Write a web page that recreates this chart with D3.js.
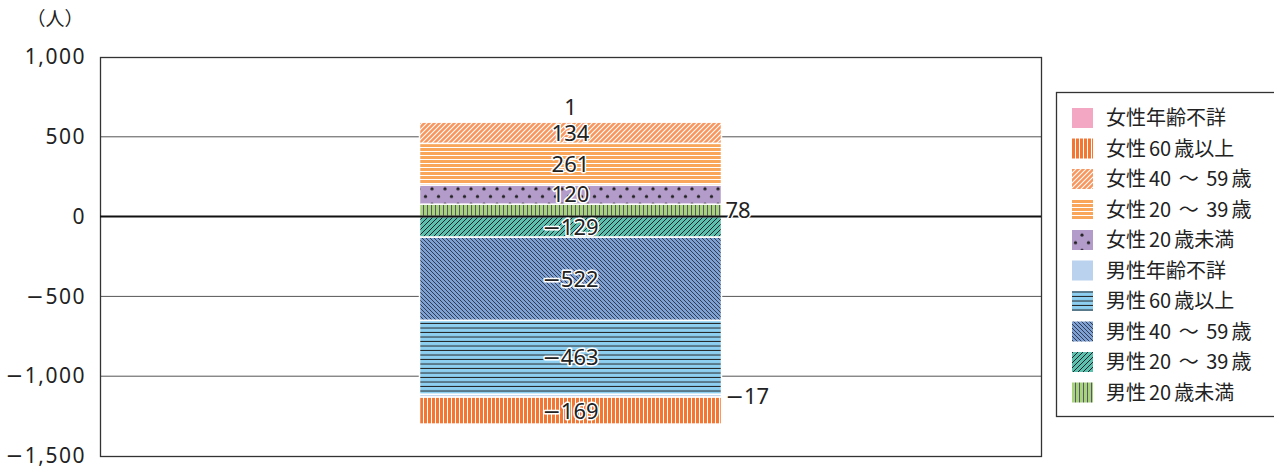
<!DOCTYPE html>
<html><head><meta charset="utf-8">
<script src="https://cdn.jsdelivr.net/npm/d3@7"></script>
<style>
body{margin:0;background:#fff;}
svg{display:block;font-family:"Noto Sans","Noto Sans CJK JP",sans-serif;}
</style></head>
<body><svg id="c" width="1274" height="466"></svg>
<script>
// ---- data ----
const categories = ["女性年齢不詳","女性60歳以上","女性40 〜 59歳","女性20 〜 39歳","女性20歳未満","男性年齢不詳","男性60歳以上","男性40 〜 59歳","男性20 〜 39歳","男性20歳未満"];
const values = [1, -169, 134, 261, 120, -17, -463, -522, -129, 78];
const yTicks = [1000, 500, 0, -500, -1000, -1500];
const yTickLabels = ["1,000","500","0","−500","−1,000","−1,500"];
const unitLabel = "（人）";

// ---- styles ----
const fills = ["#F4A7C3","url(#p1)","url(#p2)","url(#p3)","url(#p4)","#BAD2EE","url(#p6)","url(#p7)","url(#p8)","url(#p9)"];

const svg = d3.select("#c");
const M = {l:100, r:1041, t:57, b:456};

const defs = svg.append("defs");
function pat(id, w, h, bg, draw){
  const p = defs.append("pattern").attr("id",id).attr("patternUnits","userSpaceOnUse").attr("width",w).attr("height",h);
  p.append("rect").attr("width",w).attr("height",h).attr("fill",bg);
  draw(p);
}
pat("p1",4,4,"#F37733",p=>p.append("rect").attr("x",3).attr("y",0).attr("width",1).attr("height",4).attr("fill","#fff"));
pat("p2",5,5,"#F7965E",p=>{p.append("path").attr("d","M-1,6 L6,-1 M-1,1 L1,-1 M4,6 L6,4").attr("stroke","#fff").attr("stroke-width",1.1);});
pat("p3",4,4,"#F9A65B",p=>p.append("rect").attr("x",0).attr("y",3).attr("width",4).attr("height",1).attr("fill","#fff"));
pat("p4",13,15.4,"#B39BCA",p=>{p.append("circle").attr("cx",3).attr("cy",4).attr("r",1.6).attr("fill","#222");p.append("circle").attr("cx",9.5).attr("cy",11.7).attr("r",1.6).attr("fill","#222");});
pat("p6",4,4.5,"#8DCFF1",p=>p.append("rect").attr("x",0).attr("y",3.5).attr("width",4).attr("height",1).attr("fill","#222"));
pat("p7",4,4,"#7EA1D5",p=>{p.append("path").attr("d","M-1,-1 L5,5 M3,-1 L5,1 M-1,3 L1,5").attr("stroke","#2a3040").attr("stroke-width",0.9);});
pat("p8",5,5,"#5CC1AC",p=>{p.append("path").attr("d","M-1,6 L6,-1 M-1,1 L1,-1 M4,6 L6,4").attr("stroke","#223").attr("stroke-width",1);});
pat("p9",4,4,"#A7D479",p=>p.append("rect").attr("x",3).attr("y",0).attr("width",1).attr("height",4).attr("fill","#5a5470"));

// write a number-ish string: minus sign drawn in DejaVu Sans (wide minus)
function numText(sel, s){
  sel.text(null);
  const parts = s.split(/(−)/).filter(p=>p.length);
  parts.forEach(p=>{
    const t = sel.append("tspan").text(p);
    if(p==="−") t.attr("font-family","DejaVu Sans").attr("dx",0);
  });
}
// write mixed Japanese/latin with small gaps around latin runs
function mixText(sel, s){
  const parts = s.match(/[0-9]+|[^0-9]+/g);
  let prevLatin=false;
  parts.forEach((p,k)=>{
    const latin = /^[0-9]+$/.test(p);
    const t = sel.append("tspan").text(p);
    if(latin){ t.attr("dx",k>0?3:0); }
    else if(prevLatin){ t.attr("dx",3); }
    prevLatin=latin;
  });
}

// ---- scales ----
const y = d3.scaleLinear().domain([-1500,1000]).range([M.b, M.t]);
const x = d3.scaleBand().domain(["all"]).range([M.l, M.r]).paddingInner(0.5).paddingOuter(0.529);

// grid
svg.append("g").selectAll("line").data(yTicks.filter(t=>t!==0 && t!==1000 && t!==-1500)).join("line")
  .attr("x1",M.l).attr("x2",M.r).attr("y1",d=>y(d)).attr("y2",d=>y(d)).attr("stroke","#555").attr("stroke-width",1);

// stack (diverging), order = reversed legend order
const keys = categories.slice().reverse();
const row = {cat:"all"}; categories.forEach((c,i)=>row[c]=values[i]);
const series = d3.stack().keys(keys).offset(d3.stackOffsetDiverging)([row]);

const bars = svg.append("g");
series.forEach(s=>{
  const i = categories.indexOf(s.key);
  const d = s[0];
  const y0 = y(Math.max(d[0],d[1])), y1 = y(Math.min(d[0],d[1]));
  bars.append("rect").attr("x",x("all")).attr("width",x.bandwidth())
    .attr("y",y0).attr("height",Math.max(0,y1-y0))
    .attr("fill",fills[i]).attr("stroke","#fff").attr("stroke-width",1.5);
});

// plot frame
svg.append("rect").attr("x",M.l+0.5).attr("y",M.t+0.5).attr("width",M.r-M.l).attr("height",M.b-M.t)
  .attr("fill","none").attr("stroke","#333").attr("stroke-width",1.3);
// zero line
svg.append("line").attr("x1",M.l).attr("x2",M.r).attr("y1",y(0)).attr("y2",y(0)).attr("stroke","#111").attr("stroke-width",2);

// y axis
const yAxis = d3.axisLeft(y).tickValues(yTicks).tickSize(0).tickPadding(14).tickFormat((d,i)=>yTickLabels[i]);
const ga = svg.append("g").attr("transform",`translate(${M.l},0)`).call(yAxis);
ga.select(".domain").remove();
ga.selectAll("text").attr("font-size",21).attr("fill","#222").attr("font-family",'"Noto Sans",sans-serif').attr("letter-spacing",1.5)
  .each(function(){ const s=d3.select(this).text(); numText(d3.select(this), s); });
svg.append("text").attr("x",55).attr("y",26).attr("text-anchor","middle").attr("font-size",19).attr("fill","#222")
  .attr("font-family",'"Noto Sans CJK JP",sans-serif').text(unitLabel);

// value labels
const fmt = v => (v<0?"−":"") + Math.abs(v);
const lab = svg.append("g").attr("font-size",22).attr("fill","#222");
const posTotal = d3.sum(values.filter(v=>v>0));
series.forEach(s=>{
  const i = categories.indexOf(s.key);
  const d = s[0];
  const top = y(Math.max(d[0],d[1])), bot = y(Math.min(d[0],d[1]));
  const h = bot-top;
  let tx = x("all")+x.bandwidth()/2, ty=(top+bot)/2, anchor="middle";
  const isTopmost = values[i]>0 && Math.max(d[0],d[1]) === posTotal;
  if(h<14){
    if(isTopmost){ ty = top-15; }
    else { tx = x("all")+x.bandwidth()+4; anchor="start"; }
  }
  const t = lab.append("text").attr("x",tx).attr("y",ty).attr("dy","0.36em").attr("text-anchor",anchor)
    .attr("stroke","#fff").attr("stroke-width",3).attr("paint-order","stroke").attr("stroke-linejoin","round");
  numText(t, fmt(values[i]));
});

// legend
const lg = svg.append("g");
lg.append("rect").attr("x",1056.5).attr("y",92.5).attr("width",240).attr("height",324).attr("fill","#fff").attr("stroke","#333").attr("stroke-width",1.3);
categories.forEach((c,i)=>{
  const cy = 118 + i*30.5;
  lg.append("rect").attr("x",1072).attr("y",cy-10).attr("width",21).attr("height",20).attr("fill",fills[i]);
  const t = lg.append("text").attr("x",1106).attr("y",cy).attr("dy","0.36em").attr("font-size",20).attr("fill","#222")
    .attr("font-family",'"Noto Sans CJK JP",sans-serif');
  mixText(t, c);
});
</script></body></html>
